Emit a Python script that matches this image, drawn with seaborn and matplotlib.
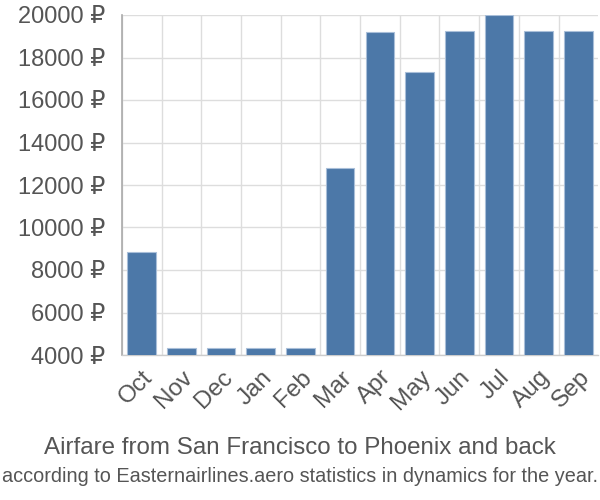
import matplotlib
matplotlib.use("Agg")
import matplotlib.pyplot as plt
import seaborn as sns
import pandas as pd
from matplotlib.ticker import FuncFormatter

months = ["Oct", "Nov", "Dec", "Jan", "Feb", "Mar", "Apr", "May", "Jun", "Jul", "Aug", "Sep"]
prices = [8850, 4330, 4330, 4330, 4330, 12800, 19180, 17320, 19270, 20000, 19270, 19270]
y_ticks = [4000, 6000, 8000, 10000, 12000, 14000, 16000, 18000, 20000]
title_lines = ["Airfare from San Francisco to Phoenix and back",
               "according to Easternairlines.aero statistics in dynamics for the year."]

sns.set_style("white")
plt.rcParams['font.family'] = ['Liberation Sans', 'DejaVu Sans']

df = pd.DataFrame({"month": months, "price": prices})

fig = plt.figure(figsize=(6, 5), dpi=100)
ax = fig.add_axes([0.203, 0.29, 0.794, 0.68])

sns.barplot(data=df, x="month", y="price", color="#4c78a8", saturation=1,
            width=0.72, edgecolor="#a9bfd9", linewidth=0.8, ax=ax, zorder=3)

ax.set_ylim(4000, 20000)
ax.set_xlim(-0.5, len(months) - 0.5)
ax.set_yticks(y_ticks)
ax.yaxis.set_major_formatter(FuncFormatter(lambda v, p: f"{int(v)} ₽"))
ax.set_xticks([i - 0.5 for i in range(len(months))], minor=False)
ax.set_xticklabels([])
ax.set_xticks(range(len(months)), minor=True)
ax.set_xticklabels(months, minor=True, rotation=45, ha="right", rotation_mode="anchor",
                   fontsize=17.5, color="#555555")
ax.tick_params(axis="x", which="minor", length=0, pad=8)
ax.tick_params(axis="x", which="major", length=19, color="#dddddd", width=1)
ax.tick_params(axis="y", length=10, color="#dddddd", width=1, labelsize=17,
               labelcolor="#555555", pad=2)

ax.grid(True, axis="both", which="major", color="#dddddd", linewidth=1, zorder=0)
ax.set_axisbelow(True)
for s in ["top", "right"]:
    ax.spines[s].set_visible(False)
ax.spines["left"].set_color("#aaaaaa")
ax.spines["left"].set_linewidth(1.2)
ax.spines["bottom"].set_color("#cccccc")
ax.spines["bottom"].set_linewidth(1)
ax.set_xlabel("")
ax.set_ylabel("")

fig.text(0.5, 0.104, title_lines[0], ha="center", va="center", fontsize=17.4, color="#555555")
fig.text(0.5, 0.046, title_lines[1], ha="center", va="center", fontsize=14.3, color="#555555")

fig.savefig("out.png", dpi=100)
